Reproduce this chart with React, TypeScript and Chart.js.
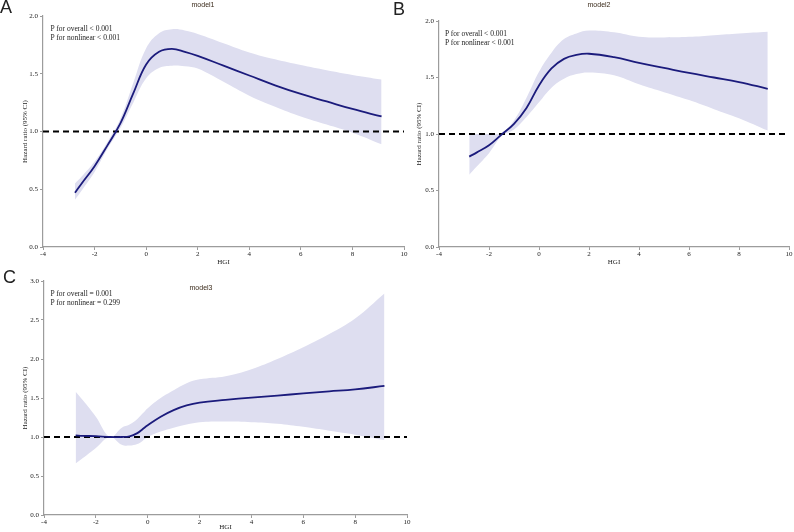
import React, { useEffect, useRef } from "react";
import { Chart, registerables } from "chart.js";

Chart.register(...registerables);

// ---------- data ----------
const xTicks = [-4, -2, 0, 2, 4, 6, 8, 10];
const yTicksAB = [0, 0.5, 1.0, 1.5, 2.0];
const yTicksC = [0, 0.5, 1.0, 1.5, 2.0, 2.5, 3.0];

const aX = [-2.76, -2.5, -2.0, -1.5, -1.0, -0.5, 0, 0.5, 1.0, 1.5, 2, 3, 4, 5, 6, 7, 8, 9.13];
const aFit = [0.47, 0.55, 0.7, 0.88, 1.07, 1.33, 1.58, 1.69, 1.715, 1.69, 1.655, 1.57, 1.485, 1.4, 1.325, 1.26, 1.195, 1.13];
const aUpper = [0.55, 0.61, 0.74, 0.91, 1.11, 1.42, 1.72, 1.85, 1.885, 1.875, 1.845, 1.765, 1.685, 1.625, 1.575, 1.53, 1.49, 1.45];
const aLower = [0.41, 0.49, 0.65, 0.85, 1.03, 1.25, 1.46, 1.55, 1.57, 1.565, 1.545, 1.43, 1.31, 1.215, 1.13, 1.06, 0.99, 0.89];

const bX = [-2.79, -2.5, -2.0, -1.5, -1.0, -0.5, 0, 0.5, 1.0, 1.5, 2, 3, 4, 5, 6, 7, 8, 9.15];
const bFit = [0.8, 0.835, 0.9, 0.995, 1.09, 1.23, 1.43, 1.58, 1.665, 1.7, 1.71, 1.68, 1.63, 1.585, 1.54, 1.5, 1.46, 1.4];
const bUpper = [1.0, 1.0, 1.0, 1.01, 1.12, 1.32, 1.55, 1.72, 1.84, 1.89, 1.915, 1.9, 1.86, 1.855, 1.86, 1.875, 1.89, 1.905];
const bLower = [0.64, 0.71, 0.83, 0.98, 1.04, 1.15, 1.28, 1.41, 1.49, 1.53, 1.545, 1.52, 1.44, 1.37, 1.3, 1.22, 1.14, 1.03];

const cX = [-2.78, -2.5, -2.0, -1.45, -1.0, -0.7, -0.4, -0.2, 0, 0.5, 1.0, 1.5, 2, 3, 4, 5, 6, 7, 8, 9.13];
const cFit = [1.02, 1.015, 1.01, 1.0, 1.0, 1.008, 1.05, 1.1, 1.15, 1.26, 1.345, 1.405, 1.44, 1.475, 1.505, 1.53, 1.56, 1.585, 1.61, 1.655];
const cUpper = [1.58, 1.47, 1.26, 1.0, 1.12, 1.16, 1.23, 1.3, 1.37, 1.5, 1.6, 1.69, 1.74, 1.78, 1.87, 2.0, 2.15, 2.32, 2.52, 2.84];
const cLower = [0.66, 0.73, 0.86, 1.0, 0.9, 0.89, 0.91, 0.95, 1.0, 1.07, 1.12, 1.16, 1.19, 1.2, 1.19, 1.17, 1.13, 1.08, 1.03, 0.96];

const refLineX = [-4, 10];
const refLineY = [1, 1];

// ---------- styles ----------
const NAVY = "#1b1b7c";
const BAND = "rgb(222,222,240)";
const AXIS = "#9c9c9c";
const TEXT = "#222";
const SERIF = "'Liberation Serif', 'Times New Roman', serif";
const SANS = "'Liberation Sans', Arial, sans-serif";

type PanelProps = {
  xs: number[];
  fit: number[];
  upper: number[];
  lower: number[];
  yMax: number;
  yTicks: number[];
  left: number;
  top: number;
  width: number;
  height: number;
  padTop: number;
  padRight: number;
  yAxisWidth: number;
  yTitlePad: number;
  xAxisHeight: number;
  xTitlePad: number;
};

function Panel(p: PanelProps) {
  const ref = useRef<HTMLCanvasElement>(null);
  useEffect(() => {
    const pts = (xs: number[], ys: number[]) => xs.map((x, i) => ({ x, y: ys[i] }));
    const font = { family: SERIF, size: 7 };
    const chart = new Chart(ref.current!, {
      type: "line",
      data: {
        datasets: [
          {
            data: pts(p.xs, p.fit),
            borderColor: NAVY,
            borderWidth: 1.8,
            pointRadius: 0,
            tension: 0.4,
            fill: false,
            order: 0,
          },
          {
            data: pts(refLineX, refLineY),
            borderColor: "#000",
            borderWidth: 1.8,
            borderDash: [6, 4],
            pointRadius: 0,
            fill: false,
            order: 1,
          },
          {
            data: pts(p.xs, p.upper),
            borderColor: "rgba(0,0,0,0)",
            borderWidth: 0,
            backgroundColor: BAND,
            pointRadius: 0,
            tension: 0.4,
            fill: "+1",
            order: 2,
          },
          {
            data: pts(p.xs, p.lower),
            borderColor: "rgba(0,0,0,0)",
            borderWidth: 0,
            pointRadius: 0,
            tension: 0.4,
            fill: false,
            order: 3,
          },
        ],
      } as any,
      options: {
        animation: false,
        responsive: true,
        maintainAspectRatio: false,
        events: [],
        layout: { padding: { left: 0, right: p.padRight, top: p.padTop, bottom: 0 } },
        plugins: {
          legend: { display: false },
          tooltip: { enabled: false },
          title: { display: false },
        },
        scales: {
          x: {
            type: "linear",
            min: -4,
            max: 10,
            afterBuildTicks: (s: any) => {
              s.ticks = xTicks.map((v) => ({ value: v }));
            },
            afterFit: (s: any) => {
              s.height = p.xAxisHeight;
            },
            ticks: {
              font,
              color: TEXT,
              padding: 0,
              maxRotation: 0,
              autoSkip: false,
              callback: (v: any) => String(v),
            },
            grid: { drawOnChartArea: false, drawTicks: true, tickLength: 3, color: AXIS, lineWidth: 1 },
            border: { display: true, color: AXIS, width: 1.2 },
            title: { display: true, text: "HGI", font, color: TEXT, padding: { top: 0, bottom: p.xTitlePad } },
          },
          y: {
            type: "linear",
            min: 0,
            max: p.yMax,
            afterBuildTicks: (s: any) => {
              s.ticks = p.yTicks.map((v) => ({ value: v }));
            },
            afterFit: (s: any) => {
              s.width = p.yAxisWidth;
            },
            ticks: {
              font,
              color: TEXT,
              padding: 2,
              autoSkip: false,
              callback: (v: any) => Number(v).toFixed(1),
            },
            grid: { drawOnChartArea: false, drawTicks: true, tickLength: 3, color: AXIS, lineWidth: 1 },
            border: { display: true, color: AXIS, width: 1.2 },
            title: {
              display: true,
              text: "Hazard ratio (95% CI)",
              font,
              color: TEXT,
              padding: { top: p.yTitlePad, bottom: 0 },
            },
          },
        },
      } as any,
    });
    return () => chart.destroy();
  }, []);
  return (
    <div style={{ position: "absolute", left: p.left, top: p.top, width: p.width, height: p.height }}>
      <canvas ref={ref} />
    </div>
  );
}

function Txt(props: { x: number; y: number; size: number; family: string; lh: number; center?: boolean; color?: string; children: React.ReactNode }) {
  return (
    <div
      style={{
        position: "absolute",
        left: props.x,
        top: props.y,
        fontFamily: props.family,
        fontSize: props.size,
        lineHeight: props.lh + "px",
        color: props.color || TEXT,
        whiteSpace: "pre",
        transform: props.center ? "translateX(-50%)" : undefined,
      }}
    >
      {props.children}
    </div>
  );
}

export default function App() {
  return (
    <div style={{ position: "absolute", left: 0, top: 0, width: 794, height: 532, background: "#fff", overflow: "hidden" }}>
      <Panel
        xs={aX} fit={aFit} upper={aUpper} lower={aLower} yMax={2} yTicks={yTicksAB}
        left={0} top={0} width={420} height={268}
        padTop={16} padRight={16} yAxisWidth={43} yTitlePad={20.8} xAxisHeight={21} xTitlePad={1.8}
      />
      <Panel
        xs={bX} fit={bFit} upper={bUpper} lower={bLower} yMax={2} yTicks={yTicksAB}
        left={400} top={0} width={394} height={268}
        padTop={21} padRight={5} yAxisWidth={39} yTitlePad={15.1} xAxisHeight={21} xTitlePad={1.8}
      />
      <Panel
        xs={cX} fit={cFit} upper={cUpper} lower={cLower} yMax={3} yTicks={yTicksC}
        left={0} top={268} width={420} height={264}
        padTop={13} padRight={13} yAxisWidth={44} yTitlePad={20.8} xAxisHeight={17} xTitlePad={0.8}
      />

      <Txt x={0} y={-2.2} size={18} family={SANS} lh={18}>A</Txt>
      <Txt x={393} y={-0.2} size={18} family={SANS} lh={18}>B</Txt>
      <Txt x={3} y={267.7} size={18} family={SANS} lh={18}>C</Txt>

      <Txt x={203} y={1} size={7} family={SANS} lh={8} center color="#3a2a1a">model1</Txt>
      <Txt x={599} y={1} size={7} family={SANS} lh={8} center color="#3a2a1a">model2</Txt>
      <Txt x={201} y={284} size={7} family={SANS} lh={8} center color="#3a2a1a">model3</Txt>

      <Txt x={50.5} y={25.1} size={7.5} family={SERIF} lh={8.4}>{"P for overall < 0.001\nP for nonlinear < 0.001"}</Txt>
      <Txt x={445} y={30.1} size={7.5} family={SERIF} lh={8.4}>{"P for overall < 0.001\nP for nonlinear < 0.001"}</Txt>
      <Txt x={50.5} y={290.1} size={7.5} family={SERIF} lh={8.4}>{"P for overall = 0.001\nP for nonlinear = 0.299"}</Txt>
    </div>
  );
}
